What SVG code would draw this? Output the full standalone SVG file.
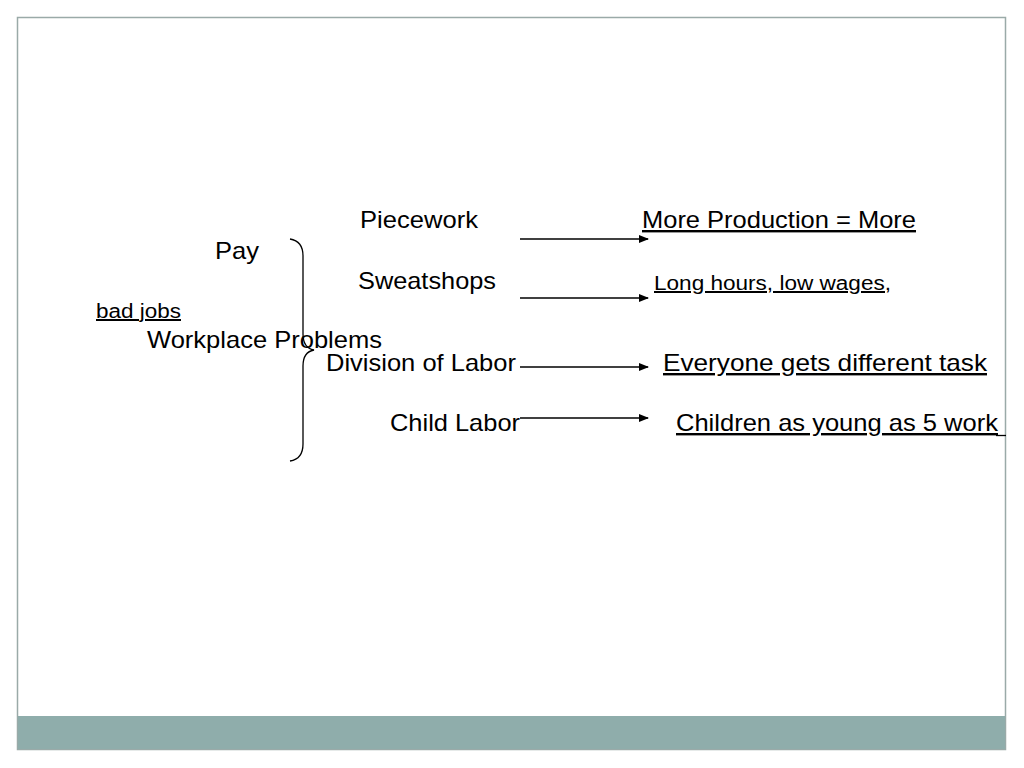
<svg xmlns="http://www.w3.org/2000/svg" width="1024" height="768" viewBox="0 0 1024 768">
<style>
text{font-family:"Liberation Sans",Arial,sans-serif;fill:#000;font-size:24px}
.u{text-decoration:underline}
.s{font-size:20px}
.c{stroke:#000;stroke-width:1.3;fill:none}
</style>
<defs><marker id="a" markerWidth="10" markerHeight="8" refX="9" refY="4" orient="auto" markerUnits="userSpaceOnUse"><path d="M0,0L10,4L0,8z" fill="#000"/></marker></defs>
<rect x="0" y="0" width="1024" height="768" fill="#fff"/>
<rect x="17.5" y="17.5" width="988" height="732" fill="#fff" stroke="#9aaaa8" stroke-width="1.5"/>
<rect x="18" y="716" width="987" height="33" fill="#8fadab"/>
<g id="brace"><path class="c" d="M290,239 Q303,241 303,256 L303,334 Q303,348 314,350 Q303,352 303,366 L303,444 Q303,459 290,461"/></g>
<g id="n-pay"><text x="215" y="259" textLength="44" lengthAdjust="spacingAndGlyphs">Pay</text></g>
<g id="n-bad"><text x="96" y="318" class="u s" textLength="85" lengthAdjust="spacingAndGlyphs">bad jobs</text></g>
<g id="n-wp"><text x="147" y="348" textLength="235" lengthAdjust="spacingAndGlyphs">Workplace Problems</text></g>
<g id="n-piece"><text x="360" y="228" textLength="118" lengthAdjust="spacingAndGlyphs">Piecework</text></g>
<g id="n-sweat"><text x="358" y="289" textLength="138" lengthAdjust="spacingAndGlyphs">Sweatshops</text></g>
<g id="n-div"><text x="326" y="371" textLength="190" lengthAdjust="spacingAndGlyphs">Division of Labor</text></g>
<g id="n-child"><text x="390" y="431" textLength="130" lengthAdjust="spacingAndGlyphs">Child Labor</text></g>
<g id="n-more"><text x="642" y="228" class="u" textLength="274" lengthAdjust="spacingAndGlyphs">More Production = More</text></g>
<g id="n-long"><text x="654" y="290" class="u s" textLength="237" lengthAdjust="spacingAndGlyphs">Long hours, low wages,</text></g>
<g id="n-every"><text x="663" y="371" class="u" textLength="324" lengthAdjust="spacingAndGlyphs">Everyone gets different  task</text></g>
<g id="n-kids"><text x="676" y="431" class="u" textLength="322" lengthAdjust="spacingAndGlyphs">Children as young as 5 work</text><line x1="996" y1="435.5" x2="1006" y2="435.5" stroke="#000" stroke-width="1.3"/></g>
<g id="connectors">
<line class="c" x1="520" y1="239" x2="648" y2="239" marker-end="url(#a)"/>
<line class="c" x1="520" y1="298" x2="648" y2="298" marker-end="url(#a)"/>
<line class="c" x1="520" y1="367" x2="648" y2="367" marker-end="url(#a)"/>
<line class="c" x1="520" y1="418" x2="648" y2="418" marker-end="url(#a)"/>
</g>
</svg>
